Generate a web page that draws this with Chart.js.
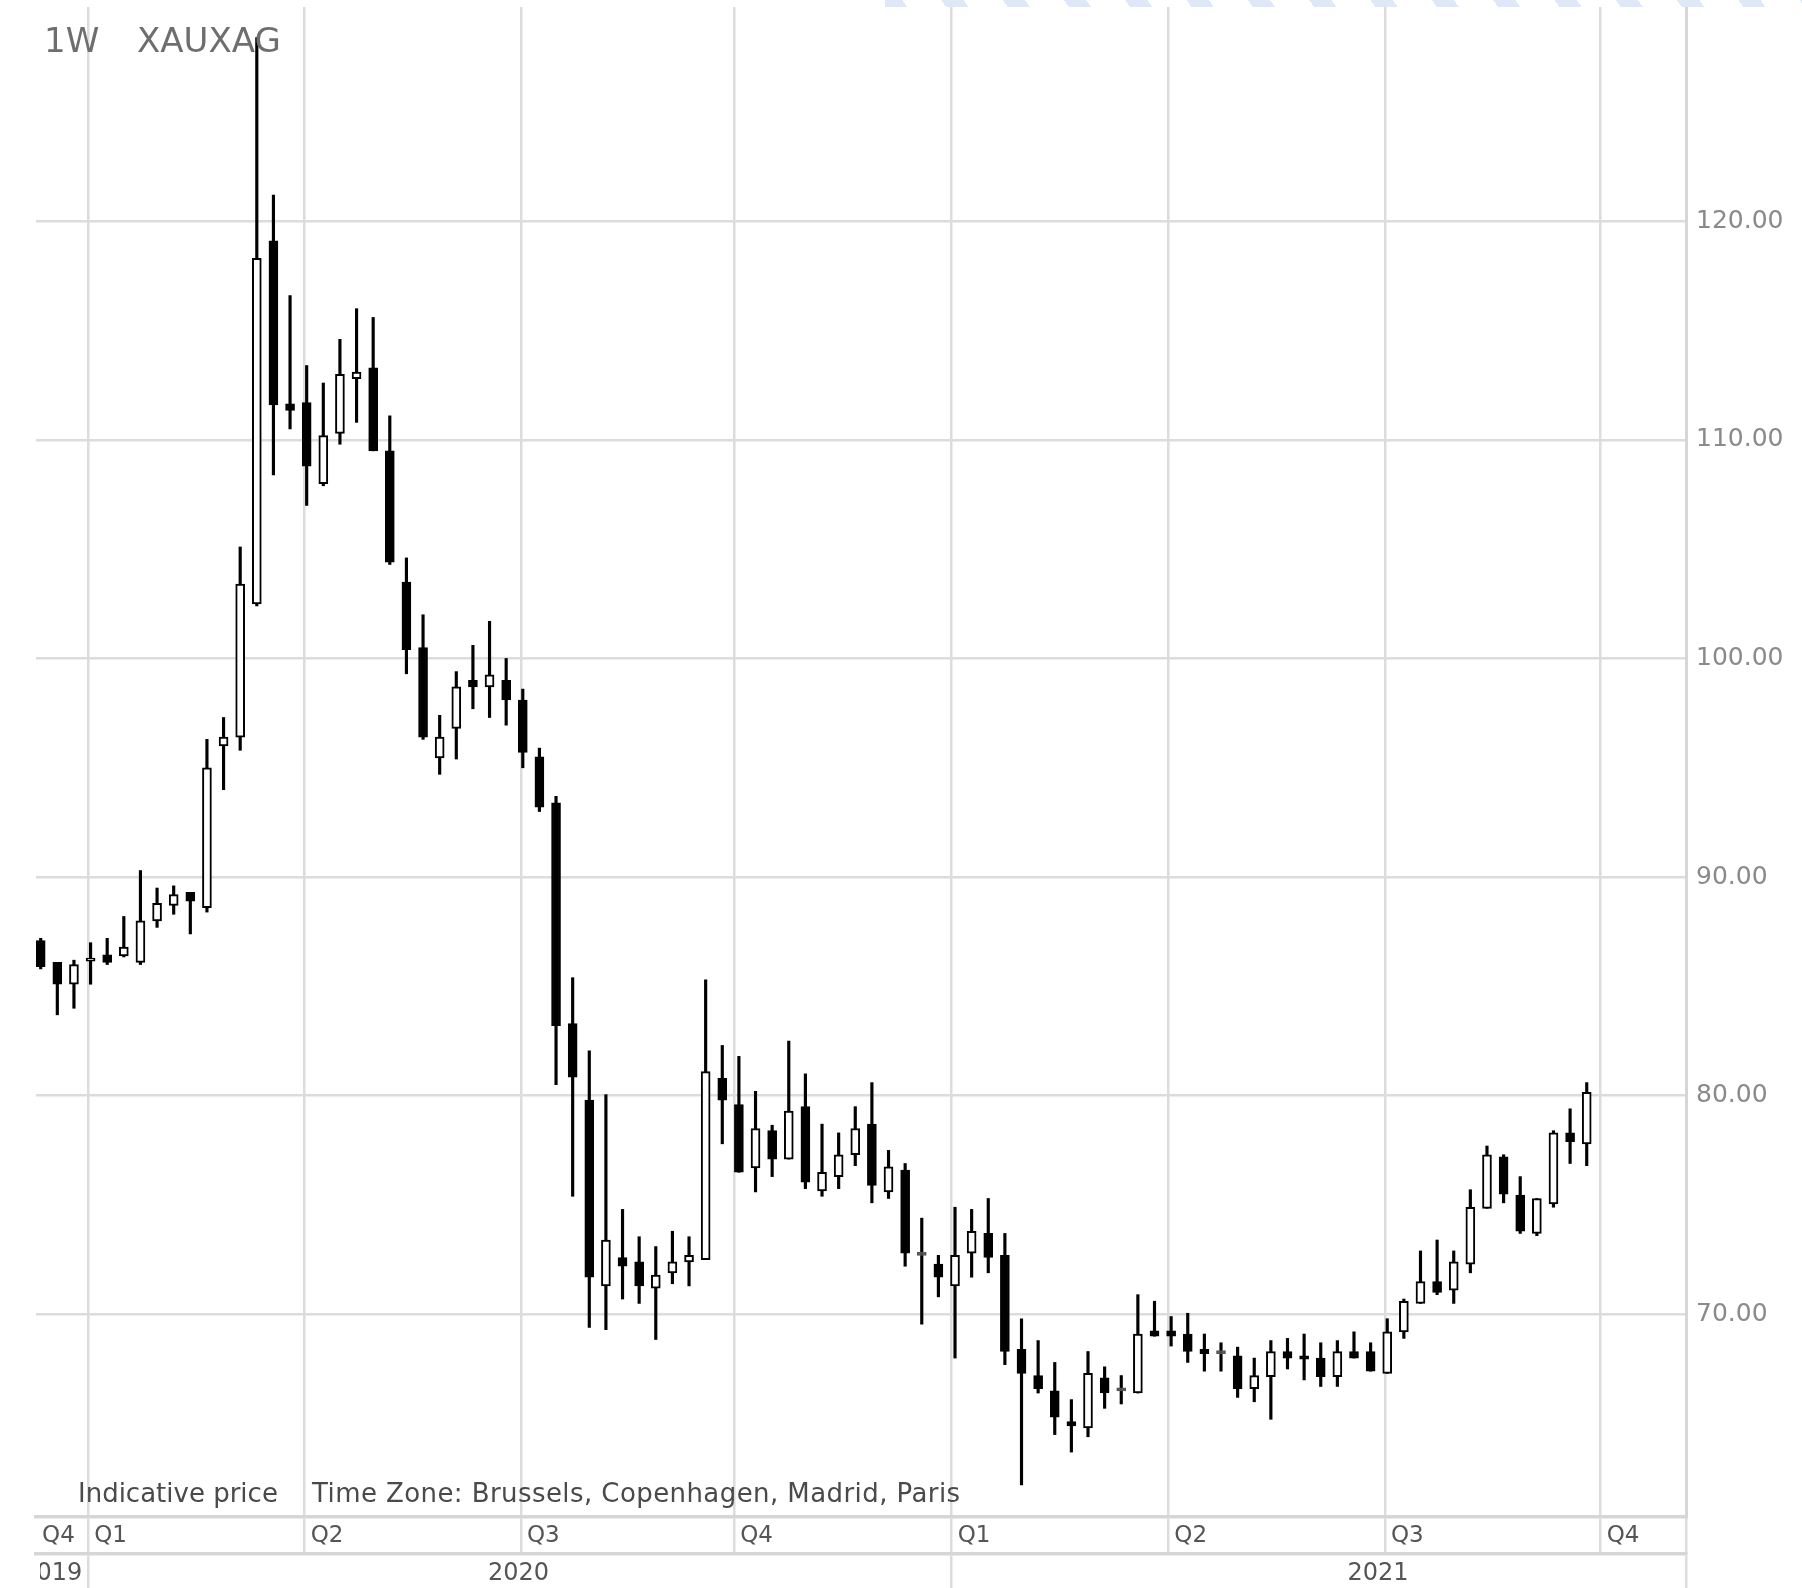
<!DOCTYPE html>
<html>
<head>
<meta charset="utf-8">
<title>XAUXAG 1W</title>
<script src="https://cdn.jsdelivr.net/npm/chart.js"></script>
<style>
  html, body { margin: 0; padding: 0; background: #ffffff; }
  #wrap { position: relative; width: 1802px; height: 1588px; overflow: hidden; font-family: "DejaVu Sans", sans-serif; background: #fff; }
  #c { position: absolute; left: 0; top: 0; }
  .t { position: absolute; white-space: pre; margin: 0; }
  #stripes { position: absolute; left: 885px; top: 0; width: 917px; height: 7px;
    background: repeating-linear-gradient(54deg, #dfe8f6 0px, #dfe8f6 18px, rgba(255,255,255,0) 18px, rgba(255,255,255,0) 49.6px); }
  #tf, #sym { font-size: 34px; line-height: 34px; top: 23px; color: #6e6e6e; }
  #tf { left: 44px; }
  #sym { left: 137px; }
  #n1, #n2 { font-size: 26px; line-height: 26px; top: 1480px; color: #4a4a4a; }
  #n1 { left: 78px; }
  #n2 { left: 312px; letter-spacing: 0.42px; }
  #mask { position: absolute; left: 0; top: 1557px; width: 40px; height: 31px; background: #fff; }
</style>
</head>
<body>
<div id="wrap">
  <canvas id="c" width="1802" height="1588"></canvas>
  <div id="stripes"></div>
  <div class="t" id="tf">1W</div>
  <div class="t" id="sym">XAUXAG</div>
  <div class="t" id="n1">Indicative price</div>
  <div class="t" id="n2">Time Zone: Brussels, Copenhagen, Madrid, Paris</div>
  <div id="mask"></div>
</div>
<script>
// ---- Weekly candles (one per week, x = week index) ----
const opens = [87.1, 86.1, 85.1, 86.15, 86.45, 86.4, 86.1, 88.0, 88.7, 89.3,
  88.6, 96.0, 96.4, 102.5, 119.1, 111.65, 111.7, 108.0, 110.3, 112.8,
  113.3, 109.5, 103.5, 100.5, 95.45, 96.8, 99.0, 98.7, 99.0, 98.1,
  95.5, 93.4, 83.3, 79.8, 71.3, 72.6, 72.4, 71.2, 71.9, 72.4,
  72.5, 80.8, 79.6, 76.7, 78.4, 77.1, 79.5, 75.65, 76.3, 77.3,
  78.7, 75.6, 76.6, 72.7, 72.3, 71.3, 72.8, 73.7, 72.7, 68.4,
  67.2, 66.5, 65.1, 64.8, 67.1, 66.5, 66.4, 69.25, 69.25, 69.1,
  68.4, 68.2, 68.1, 66.6, 67.15, 68.3, 68.1, 68.0, 67.15, 68.3,
  68.3, 67.3, 69.2, 70.5, 71.5, 71.1, 72.3, 74.85, 77.2, 75.45,
  73.7, 75.05, 78.3, 77.8];
const highs = [87.2, 86.1, 86.2, 87.0, 87.2, 88.2, 90.3, 89.5, 89.6, 89.3,
  96.3, 97.3, 105.1, 128.4, 121.2, 116.6, 113.4, 112.6, 114.6, 116.0,
  115.6, 111.1, 104.6, 102.0, 97.4, 99.4, 100.6, 101.7, 100.0, 98.6,
  95.9, 93.7, 85.4, 82.05, 80.05, 74.8, 73.55, 73.1, 73.8, 73.55,
  85.3, 82.3, 81.8, 80.2, 78.65, 82.5, 81.0, 78.7, 78.3, 79.5,
  80.6, 77.5, 76.9, 74.4, 72.7, 74.9, 74.8, 75.3, 73.7, 69.8,
  68.8, 67.8, 66.1, 68.3, 67.6, 67.2, 70.9, 70.6, 69.9, 70.05,
  69.1, 68.7, 68.5, 68.0, 68.8, 68.9, 69.1, 68.7, 68.8, 69.2,
  68.7, 69.8, 70.7, 72.9, 73.4, 72.9, 75.7, 77.7, 77.3, 76.3,
  75.3, 78.4, 79.4, 80.6];
const lows = [85.8, 83.7, 84.0, 85.1, 86.0, 86.35, 86.0, 87.7, 88.3, 87.4,
  88.4, 94.0, 95.8, 102.4, 108.4, 110.5, 107.0, 107.9, 109.8, 110.8,
  109.5, 104.3, 99.3, 96.3, 94.7, 95.4, 97.7, 97.3, 96.95, 95.0,
  93.0, 80.5, 75.4, 69.4, 69.3, 70.7, 70.5, 68.85, 71.4, 71.3,
  72.5, 77.8, 76.5, 75.6, 76.3, 77.1, 75.75, 75.4, 75.75, 76.8,
  75.1, 75.3, 72.2, 69.55, 70.8, 68.0, 71.7, 71.9, 67.7, 62.2,
  66.4, 64.5, 63.7, 64.4, 65.7, 65.9, 66.4, 69.0, 68.55, 67.8,
  67.4, 67.4, 66.2, 66.0, 65.2, 67.5, 67.0, 66.7, 66.7, 68.0,
  67.4, 67.3, 68.9, 70.5, 70.9, 70.5, 71.9, 74.85, 75.1, 73.7,
  73.6, 74.9, 76.9, 76.8];
const closes = [85.9, 85.1, 86.0, 86.3, 86.1, 86.8, 88.0, 88.8, 89.2, 88.9,
  95.0, 96.4, 103.4, 118.3, 111.6, 111.35, 108.8, 110.2, 113.0, 113.1,
  109.5, 104.4, 100.4, 96.4, 96.4, 98.7, 98.7, 99.25, 98.1, 95.7,
  93.2, 83.2, 80.85, 71.7, 73.4, 72.2, 71.3, 71.8, 72.4, 72.7,
  81.1, 79.8, 76.5, 78.5, 77.1, 79.3, 76.05, 76.5, 77.3, 78.5,
  75.9, 76.75, 72.8, 72.7, 71.7, 72.7, 73.8, 72.6, 68.3, 67.3,
  66.6, 65.3, 64.9, 67.3, 66.4, 66.5, 69.1, 69.0, 69.0, 68.3,
  68.2, 68.2, 66.6, 67.2, 68.3, 68.0, 67.95, 67.15, 68.3, 68.0,
  67.4, 69.2, 70.6, 71.5, 71.0, 72.4, 74.9, 77.3, 75.5, 73.8,
  75.3, 78.3, 77.9, 80.15];

// ---- Axis ticks ----
const yTickValues = [70, 80, 90, 100, 110, 120];
// quarter starts, in week-index units (first entry = Q4 2019 label clamped at the left edge)
const quarterTickValues = [-0.28, 2.86, 15.88, 28.89, 41.72, 54.80, 67.83, 80.86, 93.84];
const quarterLabels = ['Q4', 'Q1', 'Q2', 'Q3', 'Q4', 'Q1', 'Q2', 'Q3', 'Q4'];
const yearBoundaryValues = [2.86, 54.80];
const yearLabelValues = [0.66, 28.74, 80.44];
const yearLabels = ['2019', '2020', '2021'];

const X_MIN = -0.2827, X_MAX = 98.972;
const Y_MIN = 60.73, Y_MAX = 129.80;

// ---- build library structures ----
const FONT = "'DejaVu Sans', sans-serif";
Chart.defaults.font.family = FONT;
const GRID = '#dcdcdc';
const SEP = '#d6d6d6';
const CLEAR = 'rgba(0,0,0,0)';

const idx = opens.map((_, i) => i);
const bodyData = idx.map(i => ({ x: i, y: [opens[i], closes[i]] }));
const wickData = idx.map(i => ({ x: i, y: [lows[i], highs[i]] }));
const isUp = i => closes[i] > opens[i];
const isFlat = i => closes[i] === opens[i];

const yearAxisTicks = yearBoundaryValues.map(v => ({ v, label: '', line: true }))
  .concat(yearLabelValues.map((v, i) => ({ v, label: yearLabels[i], line: false })))
  .concat([{ v: X_MAX, label: '', line: true }])
  .sort((a, b) => a.v - b.v);

function noPad(s) {
  s.paddingTop = 0; s.paddingBottom = 0; s.paddingLeft = 0; s.paddingRight = 0;
}

new Chart(document.getElementById('c'), {
  type: 'bar',
  data: {
    datasets: [
      {
        label: 'body',
        data: bodyData,
        order: 0,
        grouped: false,
        barThickness: 9,
        borderWidth: 2,
        borderSkipped: false,
        minBarLength: 3,
        backgroundColor: c => isFlat(c.dataIndex) ? '#555555' : (isUp(c.dataIndex) ? '#ffffff' : '#000000'),
        borderColor: c => isFlat(c.dataIndex) ? '#555555' : '#000000'
      },
      {
        label: 'wick',
        data: wickData,
        order: 1,
        grouped: false,
        barThickness: 2.5,
        borderWidth: 0,
        backgroundColor: '#000000'
      }
    ]
  },
  options: {
    responsive: false,
    devicePixelRatio: 1,
    animation: false,
    layout: { padding: { left: 36, top: 7, right: 0, bottom: 0 } },
    plugins: { legend: { display: false }, tooltip: { enabled: false }, title: { display: false } },
    scales: {
      x: {
        type: 'linear', position: 'bottom', weight: 0,
        min: X_MIN, max: X_MAX, offset: false,
        afterBuildTicks: s => { s.ticks = quarterTickValues.map(v => ({ value: v })).concat([{ value: X_MAX }]); },
        afterFit: s => { s.height = 37; noPad(s); },
        grid: {
          offset: false, drawOnChartArea: true, drawTicks: true, tickLength: 37, lineWidth: 2.5,
          color: c => (c.index === 0 ? CLEAR : GRID)
        },
        border: { display: true, color: SEP, width: 3.5 },
        ticks: {
          autoSkip: false, maxRotation: 0, minRotation: 0, align: 'start', labelOffset: 6, padding: -31.4,
          color: '#555555', font: { family: FONT, size: 23 },
          callback: (v, i) => (i < quarterLabels.length ? quarterLabels[i] : '')
        }
      },
      xYear: {
        type: 'linear', position: 'bottom', weight: 1,
        min: X_MIN, max: X_MAX, offset: false,
        afterBuildTicks: s => { s.ticks = yearAxisTicks.map(t => ({ value: t.v })); },
        afterFit: s => { s.height = 34; noPad(s); },
        grid: {
          offset: false, drawOnChartArea: false, drawTicks: true, tickLength: 34, lineWidth: 2.5,
          color: c => (yearAxisTicks[c.index] && yearAxisTicks[c.index].line ? GRID : CLEAR)
        },
        border: { display: true, color: SEP, width: 3.5 },
        ticks: {
          autoSkip: false, maxRotation: 0, minRotation: 0, padding: -29,
          color: '#555555', font: { family: FONT, size: 24 },
          callback: (v, i) => (yearAxisTicks[i] ? yearAxisTicks[i].label : '')
        }
      },
      y: {
        position: 'right',
        min: Y_MIN, max: Y_MAX,
        afterBuildTicks: s => { s.ticks = yTickValues.map(v => ({ value: v })); },
        afterFit: s => { s.width = 116; noPad(s); },
        grid: { color: GRID, lineWidth: 2.5, drawTicks: false },
        border: { display: true, color: SEP, width: 3 },
        ticks: {
          padding: 10, color: '#8a8a8a', font: { family: FONT, size: 25 },
          callback: v => Number(v).toFixed(2)
        }
      }
    }
  }
});
</script>
</body>
</html>
